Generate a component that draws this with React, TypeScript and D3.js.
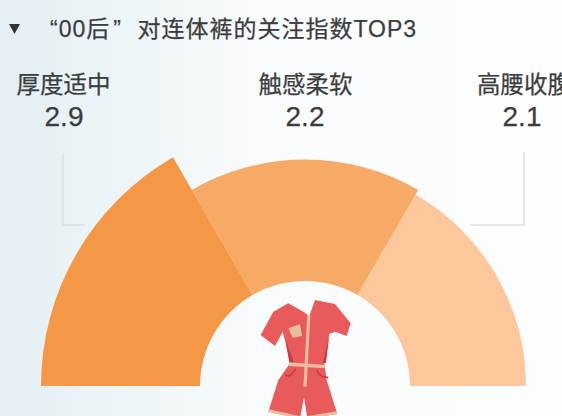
import React from "react";
import * as d3 from "d3";

const titleParts = ["“00后", "”", "对连体裤的关注指数TOP3"];
const categories = ["厚度适中", "触感柔软", "高腰收腹"];
const values = [2.9, 2.2, 2.1];
const valueLabels = ["2.9", "2.2", "2.1"];
const colors = ["#f59846", "#f7aa66", "#fcc79b"];
const FONT = "'Liberation Sans', 'Noto Sans CJK SC', sans-serif";

export default function App() {
  const cx = 305, cy = 386, inner = 105;
  const r = d3.scaleLinear().domain([2.1, 2.9]).range([221, 264]);
  const angle = d3.scaleBand<number>().domain([0, 1, 2]).range([-Math.PI / 2, Math.PI / 2]);
  const arc = d3.arc<number>()
    .innerRadius(inner)
    .outerRadius((d) => r(values[d]))
    .startAngle((d) => angle(d)!)
    .endAngle((d) => angle(d)! + angle.bandwidth());
  const labelX = [63.5, 305.5, 524];
  const valueX = [64, 305, 522];
  return (
    <svg width={562} height={416} style={{ position: "fixed", left: 0, top: 0 }} fontFamily={FONT}>
      <defs>
        <linearGradient id="bg" x1="0" x2="1" y1="0" y2="0">
          <stop offset="0" stopColor="#e3eff3" />
          <stop offset="0.45" stopColor="#f8fbfc" />
          <stop offset="1" stopColor="#fdfdfd" />
        </linearGradient>
      </defs>
      <rect width={562} height={416} fill="url(#bg)" />
      <path d="M9,24 L20,24 L14.5,34 Z" fill="#333" />
      <text x={50} y={37} fontSize={23} letterSpacing={1} fill="#3d3d3d" stroke="#3d3d3d" strokeWidth={0.25}>
        <tspan>{titleParts[0]}</tspan>
        <tspan dx={3}>{titleParts[1]}</tspan>
        <tspan dx={15.5}>{titleParts[2]}</tspan>
      </text>
      <path d="M63,153V225H85" fill="none" stroke="#d9dfe2" strokeWidth={1.5} />
      <path d="M524,152V225H470" fill="none" stroke="#e4dfdf" strokeWidth={1.5} />
      {categories.map((c, i) => (
        <g key={c} textAnchor="middle" fill="#3d3d3d" stroke="#3d3d3d" strokeWidth={0.25}>
          <text x={labelX[i]} y={93} fontSize={23.5}>{c}</text>
          <text x={valueX[i]} y={126} fontSize={28}>{valueLabels[i]}</text>
        </g>
      ))}
      <g transform={`translate(${cx},${cy})`}>
        {[2, 1, 0].map((i) => (
          <path key={i} d={arc(i) ?? ""} fill={colors[i]} />
        ))}
      </g>
      <g transform="translate(220,290) scale(0.3333)">
        <path d="M205,40 L160,65 L122,135 L165,168 L188,125 L197,160 L210,220 L175,270 L145,365 L240,385 L252,322 L262,385 L352,372 L320,270 L313,220 L328,132 L345,125 L380,138 L392,100 L345,42 L285,30 L268,78 L250,65 Z" fill="#e95a5a" />
        <path d="M197,150 L208,218 L222,218 Z M328,135 L308,220 L318,218 Z" fill="#c93b40" />
        <path d="M205,115 L240,103 L246,138 L218,143 Z" fill="#e7bea0" />
        <path d="M208,217 L315,225 L314,235 L207,228 Z" fill="#e7bea0" />
        <path d="M262,75 L271,75 L260,290 L250,290 Z" fill="#e7bea0" />
        <path d="M147,358 L238,378 L236,385 L145,367 Z M265,378 L350,364 L352,372 L265,385 Z" fill="#e7bea0" />
        <path d="M196,255 Q210,265 228,236 M325,262 Q300,265 290,240" fill="none" stroke="#c93b40" strokeWidth={5} />
      </g>
    </svg>
  );
}
